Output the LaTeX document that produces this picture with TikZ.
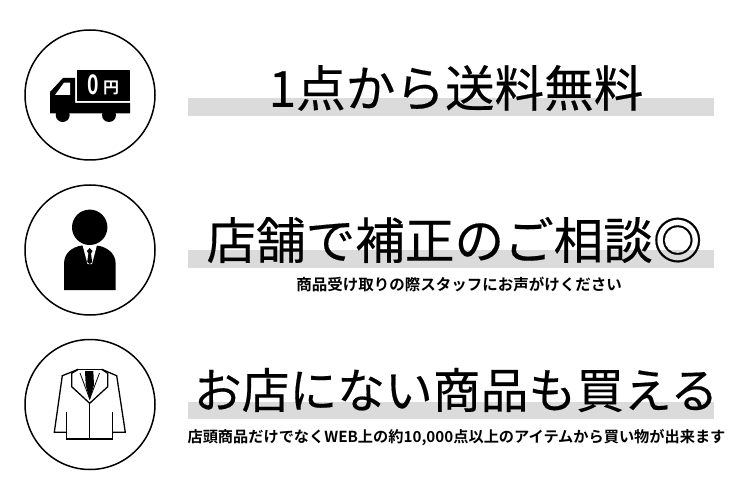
\documentclass[tikz,border=0pt]{standalone}
\usepackage{fontspec}
\setmainfont{Noto Sans CJK JP}
\newfontfamily\jpbold{Noto Sans CJK JP Bold}
\newfontfamily\jphead[FakeBold=0.35]{Noto Sans CJK JP}
\usetikzlibrary{positioning}
\definecolor{bargray}{gray}{0.86}
\tikzset{ring/.style={draw,circle,line width=1.5pt,minimum size=130pt,inner sep=0pt},
bar/.style={fill=bargray,draw=none},
head/.style={inner sep=0pt,font=\jphead\fontsize{49.6}{50}\selectfont},
note/.style={inner sep=0pt,font=\jpbold\fontsize{15.5}{16}\selectfont},
suit/.style={line width=1.3pt,line join=miter}}
\begin{document}
\begin{tikzpicture}[x=1pt,y=-1pt]
		\useasboundingbox (0,0) rectangle (750,500);
		\fill[white] (0,0) rectangle (750,500);
		% bars behind the titles
		\fill[bar] (188,98.3) rectangle (714,115.7);
		\fill[bar] (188,250) rectangle (714,267.7);
		\fill[bar] (188,401.7) rectangle (714,419);
		\node[ring] (ringa) at (90,95) {};
		\node[ring] (ringb) at (90,250) {};
		\node[ring] (ringc) at (90,404.5) {};
		% truck
		\fill (77,70) rectangle (130,101);
		\fill (50,113.3) -- (50,92) -- (63,78) -- (75,78) -- (75,103) -- (130,103) -- (130,113.3) -- cycle;
		\fill[white] (55,95) -- (70,95) -- (70,82.7) -- (64,82.7) -- cycle;
		\fill (62.7,115) circle (7);
		\fill (109,115) circle (7);
		\node[font=\jpbold\fontsize{27}{27}\selectfont,text=white,inner sep=0pt,xscale=0.72] (zero) at (93.5,85) {0};
		\node[font=\jpbold\fontsize{16}{16}\selectfont,text=white,inner sep=0pt] (yen) at (111,88) {円};
		% person
		\fill (89.7,227.3) circle (17.7);
		\fill (64,290) -- (64,264) .. controls (64,253) and (72,247) .. (82,245.5) -- (97,245.5) .. controls (107,247) and (115.7,253) .. (115.7,264) -- (115.7,290) -- cycle;
		\fill[white] (82.5,245) -- (97,245) -- (92,264) -- (87.5,264) -- cycle;
		\fill (89.7,248) -- (92.5,251) -- (91,253.5) -- (92.2,262) -- (89.7,264) -- (87.2,262) -- (88.4,253.5) -- (86.9,251) -- cycle;
		% jacket
		\draw[suit] (78.3,369.3) -- (62.3,375.7) -- (54.3,432.3) -- (66.7,432.3);
		\draw[suit] (101.7,369.3) -- (116.7,375.7) -- (125.3,432.3) -- (112.7,432.3);
		\draw[suit] (66.7,412.3) -- (66.7,439) -- (112.7,439) -- (112.7,412.3);
		\draw[suit] (78.3,369.3) -- (101.7,369.3);
		\draw[suit] (78.3,369.3) -- (71.7,373.3) -- (71.7,386.7) -- (89.7,403.3) -- (107.7,386.7) -- (107.7,373.3) -- (101.7,369.3);
		\draw[suit] (89.7,403.3) -- (89.7,439);
		\draw[line width=0.8pt] (80,373) -- (89.7,399) -- (99.5,373);
		\fill (85,371) -- (93.3,371) -- (94,385) -- (89.7,400) -- (85.7,385) -- cycle;
		% titles
		\node[head] (titlea) at (456,88) {1点から送料無料};
		\node[head] (titleb) at (454.5,240) {店舗で補正のご相談◎};
		\node[head,font=\jphead\fontsize{47.8}{48}\selectfont] (titlec) at (456,390) {お店にない商品も買える};
		\node[note] (notea) at (459,285) {商品受け取りの際スタッフにお声がけください};
		\node[note,font=\jpbold\fontsize{15.2}{16}\selectfont] (noteb) at (456.5,438) {店頭商品だけでなくWEB上の約10,000点以上のアイテムから買い物が出来ます};
	\end{tikzpicture}
\end{document}
